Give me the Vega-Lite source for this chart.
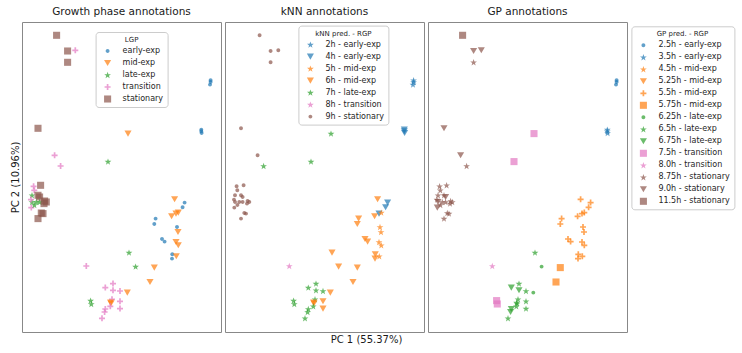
{
  "$schema": "https://vega.github.io/schema/vega-lite/v6.json",
  "padding": {"left": 9, "top": 6, "right": 5, "bottom": 5},
  "data": {
    "values": [
      {"pc1": -6.54, "pc2": 14.17, "lgp": "stationary", "knn": "9h - stationary", "gp": "11.5h - stationary"},
      {"pc1": -5.44, "pc2": 12.6, "lgp": "stationary", "knn": "9h - stationary", "gp": "9.0h - stationary"},
      {"pc1": -4.67, "pc2": 12.67, "lgp": "transition", "knn": "9h - stationary", "gp": "9.0h - stationary"},
      {"pc1": -5.44, "pc2": 11.47, "lgp": "stationary", "knn": "9h - stationary", "gp": "8.75h - stationary"},
      {"pc1": -8.4, "pc2": 4.87, "lgp": "stationary", "knn": "9h - stationary", "gp": "9.0h - stationary"},
      {"pc1": 0.6, "pc2": 4.34, "lgp": "mid-exp", "knn": "7h - late-exp", "gp": "7.5h - transition"},
      {"pc1": 8.86, "pc2": 9.67, "lgp": "early-exp", "knn": "2h - early-exp", "gp": "2.5h - early-exp"},
      {"pc1": 8.86, "pc2": 9.5, "lgp": "early-exp", "knn": "2h - early-exp", "gp": "2.5h - early-exp"},
      {"pc1": 8.8, "pc2": 9.24, "lgp": "early-exp", "knn": "2h - early-exp", "gp": "2.5h - early-exp"},
      {"pc1": 7.93, "pc2": 4.74, "lgp": "early-exp", "knn": "4h - early-exp", "gp": "3.5h - early-exp"},
      {"pc1": 7.93, "pc2": 4.57, "lgp": "early-exp", "knn": "4h - early-exp", "gp": "3.5h - early-exp"},
      {"pc1": 7.96, "pc2": 4.4, "lgp": "early-exp", "knn": "4h - early-exp", "gp": "3.5h - early-exp"},
      {"pc1": -6.74, "pc2": 2.17, "lgp": "transition", "knn": "9h - stationary", "gp": "9.0h - stationary"},
      {"pc1": -6.14, "pc2": 1.1, "lgp": "transition", "knn": "7h - late-exp", "gp": "8.75h - stationary"},
      {"pc1": -1.4, "pc2": 1.54, "lgp": "late-exp", "knn": "7h - late-exp", "gp": "7.5h - transition"},

      {"pc1": -8.84, "pc2": -0.93, "lgp": "transition", "knn": "9h - stationary", "gp": "8.75h - stationary"},
      {"pc1": -8.14, "pc2": -0.83, "lgp": "stationary", "knn": "9h - stationary", "gp": "8.75h - stationary"},
      {"pc1": -8.77, "pc2": -1.33, "lgp": "transition", "knn": "9h - stationary", "gp": "8.75h - stationary"},
      {"pc1": -9.0, "pc2": -1.83, "lgp": "late-exp", "knn": "9h - stationary", "gp": "8.75h - stationary"},
      {"pc1": -8.4, "pc2": -1.83, "lgp": "stationary", "knn": "9h - stationary", "gp": "8.75h - stationary"},
      {"pc1": -8.24, "pc2": -2.0, "lgp": "stationary", "knn": "9h - stationary", "gp": "9.0h - stationary"},
      {"pc1": -7.74, "pc2": -2.4, "lgp": "stationary", "knn": "9h - stationary", "gp": "8.75h - stationary"},
      {"pc1": -7.57, "pc2": -2.5, "lgp": "stationary", "knn": "9h - stationary", "gp": "8.75h - stationary"},
      {"pc1": -9.0, "pc2": -2.5, "lgp": "late-exp", "knn": "9h - stationary", "gp": "9.0h - stationary"},
      {"pc1": -8.57, "pc2": -2.5, "lgp": "late-exp", "knn": "9h - stationary", "gp": "8.75h - stationary"},
      {"pc1": -8.24, "pc2": -2.5, "lgp": "late-exp", "knn": "9h - stationary", "gp": "8.75h - stationary"},
      {"pc1": -7.8, "pc2": -2.66, "lgp": "stationary", "knn": "9h - stationary", "gp": "8.75h - stationary"},
      {"pc1": -9.07, "pc2": -3.06, "lgp": "transition", "knn": "9h - stationary", "gp": "9.0h - stationary"},
      {"pc1": -8.07, "pc2": -3.6, "lgp": "stationary", "knn": "9h - stationary", "gp": "8.75h - stationary"},
      {"pc1": -7.9, "pc2": -3.66, "lgp": "stationary", "knn": "9h - stationary", "gp": "8.75h - stationary"},
      {"pc1": -8.4, "pc2": -4.16, "lgp": "stationary", "knn": "9h - stationary", "gp": "8.75h - stationary"},
      {"pc1": -9.1, "pc2": -2.26, "lgp": "transition", "knn": "9h - stationary", "gp": "8.75h - stationary"},
      {"pc1": -8.76, "pc2": -2.8, "lgp": "late-exp", "knn": "9h - stationary", "gp": "8.75h - stationary"},

      {"pc1": 5.26, "pc2": -2.23, "lgp": "mid-exp", "knn": "6h - mid-exp", "gp": "5.5h - mid-exp"},
      {"pc1": 6.26, "pc2": -2.56, "lgp": "early-exp", "knn": "4h - early-exp", "gp": "5.5h - mid-exp"},
      {"pc1": 6.06, "pc2": -3.03, "lgp": "early-exp", "knn": "4h - early-exp", "gp": "5.5h - mid-exp"},
      {"pc1": 4.96, "pc2": -3.93, "lgp": "mid-exp", "knn": "6h - mid-exp", "gp": "5.5h - mid-exp"},
      {"pc1": 5.4, "pc2": -3.66, "lgp": "mid-exp", "knn": "4h - early-exp", "gp": "5.5h - mid-exp"},
      {"pc1": 5.63, "pc2": -3.56, "lgp": "mid-exp", "knn": "5h - mid-exp", "gp": "5.5h - mid-exp"},
      {"pc1": 3.36, "pc2": -4.16, "lgp": "early-exp", "knn": "6h - mid-exp", "gp": "5.5h - mid-exp"},
      {"pc1": 3.23, "pc2": -4.7, "lgp": "early-exp", "knn": "6h - mid-exp", "gp": "5.5h - mid-exp"},
      {"pc1": 5.5, "pc2": -5.0, "lgp": "early-exp", "knn": "5h - mid-exp", "gp": "5.5h - mid-exp"},
      {"pc1": 5.6, "pc2": -5.5, "lgp": "mid-exp", "knn": "5h - mid-exp", "gp": "5.5h - mid-exp"},
      {"pc1": 4.0, "pc2": -6.2, "lgp": "early-exp", "knn": "6h - mid-exp", "gp": "5.5h - mid-exp"},
      {"pc1": 4.26, "pc2": -6.46, "lgp": "early-exp", "knn": "6h - mid-exp", "gp": "5.5h - mid-exp"},
      {"pc1": 5.4, "pc2": -6.5, "lgp": "mid-exp", "knn": "5h - mid-exp", "gp": "5.5h - mid-exp"},
      {"pc1": 5.63, "pc2": -6.83, "lgp": "mid-exp", "knn": "5h - mid-exp", "gp": "5.5h - mid-exp"},
      {"pc1": 5.03, "pc2": -7.73, "lgp": "early-exp", "knn": "6h - mid-exp", "gp": "5.5h - mid-exp"},
      {"pc1": 5.0, "pc2": -8.16, "lgp": "early-exp", "knn": "6h - mid-exp", "gp": "5.5h - mid-exp"},
      {"pc1": 5.43, "pc2": -7.93, "lgp": "mid-exp", "knn": "5h - mid-exp", "gp": "5.5h - mid-exp"},
      {"pc1": 0.7, "pc2": -7.56, "lgp": "late-exp", "knn": "6h - mid-exp", "gp": "6.5h - late-exp"},
      {"pc1": -3.57, "pc2": -8.9, "lgp": "transition", "knn": "8h - transition", "gp": "8.0h - transition"},
      {"pc1": 1.36, "pc2": -8.96, "lgp": "late-exp", "knn": "6h - mid-exp", "gp": "6.25h - late-exp"},
      {"pc1": 3.23, "pc2": -9.06, "lgp": "mid-exp", "knn": "6h - mid-exp", "gp": "5.75h - mid-exp"},
      {"pc1": 2.8, "pc2": -10.5, "lgp": "mid-exp", "knn": "6h - mid-exp", "gp": "5.75h - mid-exp"},
      {"pc1": -0.9, "pc2": -10.66, "lgp": "transition", "knn": "7h - late-exp", "gp": "6.5h - late-exp"},
      {"pc1": -1.67, "pc2": -11.06, "lgp": "transition", "knn": "7h - late-exp", "gp": "6.75h - late-exp"},
      {"pc1": -0.9, "pc2": -11.33, "lgp": "transition", "knn": "7h - late-exp", "gp": "6.75h - late-exp"},
      {"pc1": -0.2, "pc2": -11.4, "lgp": "transition", "knn": "7h - late-exp", "gp": "6.5h - late-exp"},
      {"pc1": 0.53, "pc2": -11.56, "lgp": "mid-exp", "knn": "6h - mid-exp", "gp": "6.25h - late-exp"},
      {"pc1": -3.14, "pc2": -12.36, "lgp": "late-exp", "knn": "7h - late-exp", "gp": "7.5h - transition"},
      {"pc1": -3.07, "pc2": -12.7, "lgp": "late-exp", "knn": "7h - late-exp", "gp": "7.5h - transition"},
      {"pc1": -1.0, "pc2": -12.23, "lgp": "transition", "knn": "7h - late-exp", "gp": "6.5h - late-exp"},
      {"pc1": -1.14, "pc2": -12.56, "lgp": "mid-exp", "knn": "6h - mid-exp", "gp": "6.5h - late-exp"},
      {"pc1": -1.1, "pc2": -12.65, "lgp": "mid-exp", "knn": "6h - mid-exp", "gp": "6.5h - late-exp"},
      {"pc1": -0.2, "pc2": -12.43, "lgp": "transition", "knn": "6h - mid-exp", "gp": "6.5h - late-exp"},
      {"pc1": -1.17, "pc2": -12.93, "lgp": "transition", "knn": "7h - late-exp", "gp": "6.5h - late-exp"},
      {"pc1": -1.67, "pc2": -13.2, "lgp": "transition", "knn": "7h - late-exp", "gp": "6.75h - late-exp"},
      {"pc1": -1.74, "pc2": -13.5, "lgp": "transition", "knn": "7h - late-exp", "gp": "6.75h - late-exp"},
      {"pc1": -0.2, "pc2": -13.16, "lgp": "transition", "knn": "6h - mid-exp", "gp": "6.5h - late-exp"},
      {"pc1": -2.0, "pc2": -14.13, "lgp": "transition", "knn": "7h - late-exp", "gp": "6.5h - late-exp"}
    ]
  },
  "spacing": 2,
  "hconcat": [
    {
      "title": "Growth phase annotations",
      "width": 199,
      "height": 310,
      "mark": {"type": "point", "filled": true, "opacity": 0.7, "size": 50, "strokeWidth": 0},
      "encoding": {
        "x": {"field": "pc1", "type": "quantitative", "scale": {"domain": [-10, 9.9], "nice": false, "zero": false}, "axis": null},
        "y": {
          "field": "pc2", "type": "quantitative",
          "scale": {"domain": [-15.5, 15.5], "nice": false, "zero": false},
          "axis": {"title": "PC 2 (10.96%)", "domain": false, "ticks": false, "labels": false, "grid": false, "titlePadding": 2}
        },
        "color": {
          "field": "lgp", "type": "nominal",
          "scale": {
            "domain": ["early-exp", "mid-exp", "late-exp", "transition", "stationary"],
            "range": ["#1f77b4", "#ff7f0e", "#2ca02c", "#e377c2", "#8c564b"]
          },
          "legend": {"title": "LGP", "legendX": 73.6, "legendY": 10}
        },
        "shape": {
          "field": "lgp", "type": "nominal",
          "scale": {
            "domain": ["early-exp", "mid-exp", "late-exp", "transition", "stationary"],
            "range": [
              "M0.55,0A0.55,0.55,0,1,1,-0.55,0A0.55,0.55,0,1,1,0.55,0Z",
              "triangle-down",
              "M0,-0.91L0.235,-0.23L0.951,-0.21L0.38,0.22L0.588,0.9L0,0.5L-0.588,0.9L-0.38,0.22L-0.951,-0.21L-0.235,-0.23Z",
              "M-0.24,-0.85L0.24,-0.85L0.24,-0.24L0.85,-0.24L0.85,0.24L0.24,0.24L0.24,0.85L-0.24,0.85L-0.24,0.24L-0.85,0.24L-0.85,-0.24L-0.24,-0.24Z",
              "square"
            ]
          },
          "legend": {"title": "LGP", "legendX": 73.6, "legendY": 10}
        }
      }
    },
    {
      "title": "kNN annotations",
      "width": 199,
      "height": 310,
      "mark": {"type": "point", "filled": true, "opacity": 0.7, "size": 50, "strokeWidth": 0},
      "encoding": {
        "x": {
          "field": "pc1", "type": "quantitative",
          "scale": {"domain": [-10, 9.9], "nice": false, "zero": false},
          "axis": {"title": "PC 1 (55.37%)", "domain": false, "ticks": false, "labels": false, "grid": false, "titlePadding": 2, "titleX": 141, "titleAlign": "center"}
        },
        "y": {"field": "pc2", "type": "quantitative", "scale": {"domain": [-15.5, 15.5], "nice": false, "zero": false}, "axis": null},
        "color": {
          "field": "knn", "type": "nominal",
          "scale": {
            "domain": ["2h - early-exp", "4h - early-exp", "5h - mid-exp", "6h - mid-exp", "7h - late-exp", "8h - transition", "9h - stationary"],
            "range": ["#1f77b4", "#1f77b4", "#ff7f0e", "#ff7f0e", "#2ca02c", "#e377c2", "#8c564b"]
          },
          "legend": {"title": "kNN pred. - RGP", "legendX": 73.4, "legendY": 3.6}
        },
        "shape": {
          "field": "knn", "type": "nominal",
          "scale": {
            "domain": ["2h - early-exp", "4h - early-exp", "5h - mid-exp", "6h - mid-exp", "7h - late-exp", "8h - transition", "9h - stationary"],
            "range": [
              "M0,-0.91L0.235,-0.23L0.951,-0.21L0.38,0.22L0.588,0.9L0,0.5L-0.588,0.9L-0.38,0.22L-0.951,-0.21L-0.235,-0.23Z",
              "triangle-down",
              "M0,-0.91L0.235,-0.23L0.951,-0.21L0.38,0.22L0.588,0.9L0,0.5L-0.588,0.9L-0.38,0.22L-0.951,-0.21L-0.235,-0.23Z",
              "triangle-down",
              "M0,-0.91L0.235,-0.23L0.951,-0.21L0.38,0.22L0.588,0.9L0,0.5L-0.588,0.9L-0.38,0.22L-0.951,-0.21L-0.235,-0.23Z",
              "M0,-0.91L0.235,-0.23L0.951,-0.21L0.38,0.22L0.588,0.9L0,0.5L-0.588,0.9L-0.38,0.22L-0.951,-0.21L-0.235,-0.23Z",
              "M0.55,0A0.55,0.55,0,1,1,-0.55,0A0.55,0.55,0,1,1,0.55,0Z"
            ]
          },
          "legend": {"title": "kNN pred. - RGP", "legendX": 73.4, "legendY": 3.6}
        }
      }
    },
    {
      "title": "GP annotations",
      "width": 199,
      "height": 310,
      "mark": {"type": "point", "filled": true, "opacity": 0.7, "size": 50, "strokeWidth": 0},
      "encoding": {
        "x": {"field": "pc1", "type": "quantitative", "scale": {"domain": [-10, 9.9], "nice": false, "zero": false}, "axis": null},
        "y": {"field": "pc2", "type": "quantitative", "scale": {"domain": [-15.5, 15.5], "nice": false, "zero": false}, "axis": null},
        "color": {
          "field": "gp", "type": "nominal",
          "scale": {
            "domain": ["2.5h - early-exp", "3.5h - early-exp", "4.5h - mid-exp", "5.25h - mid-exp", "5.5h - mid-exp", "5.75h - mid-exp", "6.25h - late-exp", "6.5h - late-exp", "6.75h - late-exp", "7.5h - transition", "8.0h - transition", "8.75h - stationary", "9.0h - stationary", "11.5h - stationary"],
            "range": ["#1f77b4", "#1f77b4", "#ff7f0e", "#ff7f0e", "#ff7f0e", "#ff7f0e", "#2ca02c", "#2ca02c", "#2ca02c", "#e377c2", "#e377c2", "#8c564b", "#8c564b", "#8c564b"]
          },
          "legend": {"title": "GP pred. - RGP", "legendX": 203.4, "legendY": 4.3}
        },
        "shape": {
          "field": "gp", "type": "nominal",
          "scale": {
            "domain": ["2.5h - early-exp", "3.5h - early-exp", "4.5h - mid-exp", "5.25h - mid-exp", "5.5h - mid-exp", "5.75h - mid-exp", "6.25h - late-exp", "6.5h - late-exp", "6.75h - late-exp", "7.5h - transition", "8.0h - transition", "8.75h - stationary", "9.0h - stationary", "11.5h - stationary"],
            "range": [
              "M0.55,0A0.55,0.55,0,1,1,-0.55,0A0.55,0.55,0,1,1,0.55,0Z",
              "M0,-0.91L0.235,-0.23L0.951,-0.21L0.38,0.22L0.588,0.9L0,0.5L-0.588,0.9L-0.38,0.22L-0.951,-0.21L-0.235,-0.23Z",
              "M0,-0.91L0.235,-0.23L0.951,-0.21L0.38,0.22L0.588,0.9L0,0.5L-0.588,0.9L-0.38,0.22L-0.951,-0.21L-0.235,-0.23Z",
              "triangle-down",
              "M-0.24,-0.85L0.24,-0.85L0.24,-0.24L0.85,-0.24L0.85,0.24L0.24,0.24L0.24,0.85L-0.24,0.85L-0.24,0.24L-0.85,0.24L-0.85,-0.24L-0.24,-0.24Z",
              "square",
              "M0.55,0A0.55,0.55,0,1,1,-0.55,0A0.55,0.55,0,1,1,0.55,0Z",
              "M0,-0.91L0.235,-0.23L0.951,-0.21L0.38,0.22L0.588,0.9L0,0.5L-0.588,0.9L-0.38,0.22L-0.951,-0.21L-0.235,-0.23Z",
              "triangle-down",
              "square",
              "M0,-0.91L0.235,-0.23L0.951,-0.21L0.38,0.22L0.588,0.9L0,0.5L-0.588,0.9L-0.38,0.22L-0.951,-0.21L-0.235,-0.23Z",
              "M0,-0.91L0.235,-0.23L0.951,-0.21L0.38,0.22L0.588,0.9L0,0.5L-0.588,0.9L-0.38,0.22L-0.951,-0.21L-0.235,-0.23Z",
              "triangle-down",
              "square"
            ]
          },
          "legend": {"title": "GP pred. - RGP", "legendX": 203.4, "legendY": 4.3}
        }
      }
    }
  ],
  "resolve": {
    "scale": {"color": "independent", "shape": "independent"},
    "legend": {"color": "independent", "shape": "independent"}
  },
  "config": {
    "font": "DejaVu Sans",
    "view": {"stroke": "#888888", "strokeWidth": 1},
    "title": {"font": "DejaVu Sans", "fontSize": 10.5, "fontWeight": "normal", "color": "#1a1a1a", "offset": 5},
    "axis": {"titleFont": "DejaVu Sans", "titleFontSize": 10, "titleFontWeight": "normal", "titleColor": "#1a1a1a"},
    "legend": {
      "orient": "none",
      "fillColor": "white",
      "strokeColor": "#cccccc",
      "cornerRadius": 3,
      "padding": 4,
      "symbolOffset": 4,
      "labelOffset": 11,
      "labelFont": "DejaVu Sans",
      "labelFontSize": 8,
      "labelColor": "#262626",
      "titleFont": "DejaVu Sans",
      "titleFontSize": 7,
      "titleFontWeight": "normal",
      "titleColor": "#262626",
      "titleAnchor": "middle",
      "titlePadding": 4,
      "rowPadding": 4,
      "symbolSize": 50,
      "symbolOpacity": 0.7,
      "symbolStrokeWidth": 0
    }
  }
}
